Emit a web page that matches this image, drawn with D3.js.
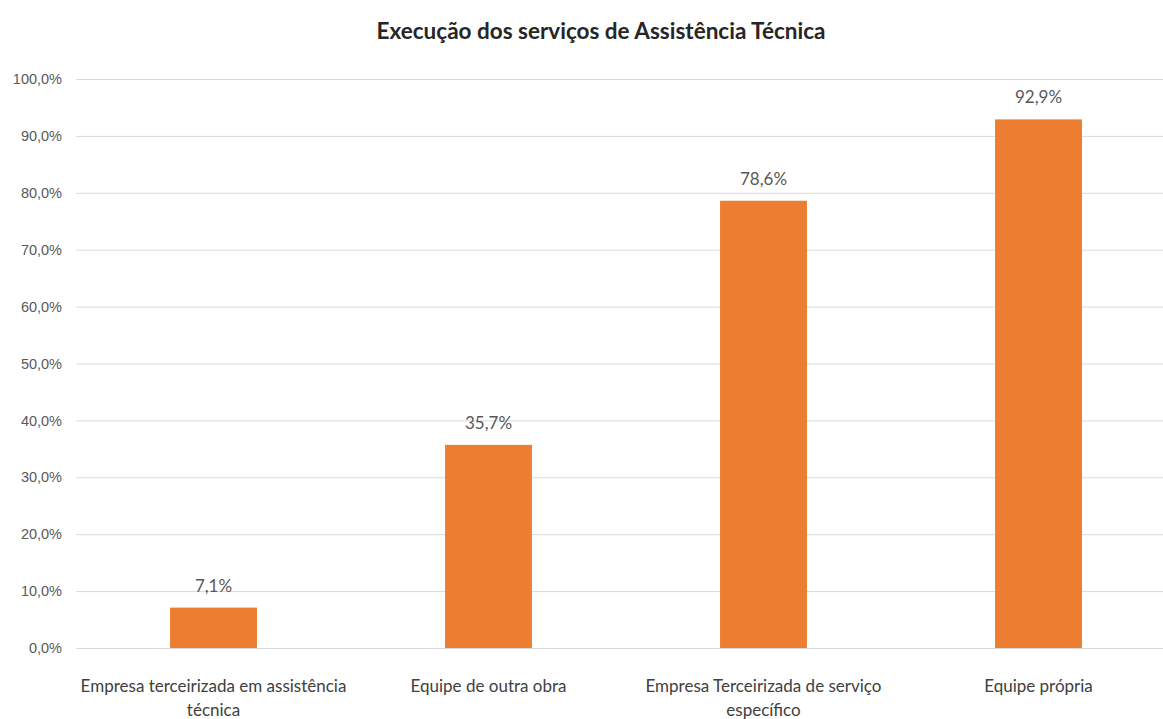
<!DOCTYPE html>
<html>
<head>
<meta charset="utf-8">
<script src="https://cdn.jsdelivr.net/npm/d3@7"></script>
<style>
  html, body { margin: 0; padding: 0; background: #fff; }
  svg { display: block; font-family: Lato, "Open Sans", sans-serif; }
</style>
</head>
<body>
<svg id="chart" width="1163" height="719"></svg>
<script>
const chartTitle = 'Execução dos serviços de Assistência Técnica';
const categories = [
  'Empresa terceirizada em assistência técnica',
  'Equipe de outra obra',
  'Empresa Terceirizada de serviço específico',
  'Equipe própria'
];
const values = [0.071, 0.357, 0.786, 0.929];
const yTicks = [0, 0.1, 0.2, 0.3, 0.4, 0.5, 0.6, 0.7, 0.8, 0.9, 1.0];

const width = 1163, height = 719;
const margin = { top: 79, right: -13, bottom: 71, left: 76 };

const svg = d3.select('#chart');

const x = d3.scaleBand()
  .domain(categories)
  .range([margin.left, width - margin.right])
  .paddingInner(0.684)
  .paddingOuter(0.342);

const y = d3.scaleLinear()
  .domain([0, 1])
  .range([height - margin.bottom, margin.top]);

const pct = d => d3.format('.1%')(d).replace('.', ',');

// gridlines + y labels
const yAxis = svg.append('g')
  .attr('transform', `translate(${margin.left},0)`)
  .call(d3.axisLeft(y)
    .tickValues(yTicks)
    .tickFormat(pct)
    .tickSize(-(width - margin.left - margin.right))
    .tickPadding(14));
yAxis.select('.domain').remove();
yAxis.selectAll('.tick line').attr('stroke', '#d9d9d9').attr('stroke-width', 1);
yAxis.selectAll('.tick text')
  .attr('fill', '#595959')
  .style('font-size', '14.5px');

// bars
svg.append('g')
  .selectAll('rect')
  .data(values)
  .join('rect')
  .attr('x', (d, i) => x(categories[i]))
  .attr('y', d => y(d))
  .attr('width', x.bandwidth())
  .attr('height', d => y(0) - y(d))
  .attr('fill', '#ED7D31');

// value labels
svg.append('g')
  .selectAll('text')
  .data(values)
  .join('text')
  .attr('x', (d, i) => x(categories[i]) + x.bandwidth() / 2)
  .attr('y', d => y(d) - 16)
  .attr('text-anchor', 'middle')
  .attr('fill', '#595959')
  .style('font-size', '17px')
  .text(pct);

// category labels, wrapped
function wrapLabel(text, maxWidth) {
  const words = text.split(' ');
  const lines = [];
  let line = '';
  const probe = svg.append('text').style('font-size', '17px');
  words.forEach(w => {
    const test = line ? line + ' ' + w : w;
    probe.text(test);
    if (probe.node().getComputedTextLength() > maxWidth && line) {
      lines.push(line);
      line = w;
    } else {
      line = test;
    }
  });
  lines.push(line);
  probe.remove();
  return lines;
}

const xLabels = svg.append('g');
categories.forEach(c => {
  const t = xLabels.append('text')
    .attr('x', x(c) + x.bandwidth() / 2)
    .attr('y', 692)
    .attr('text-anchor', 'middle')
    .attr('fill', '#404040')
    .style('font-size', '17px');
  wrapLabel(c, 272).forEach((l, i) => {
    t.append('tspan')
      .attr('x', x(c) + x.bandwidth() / 2)
      .attr('dy', i === 0 ? 0 : 24)
      .text(l);
  });
});

// title
svg.append('text')
  .attr('x', 601)
  .attr('y', 39)
  .attr('text-anchor', 'middle')
  .attr('fill', '#262626')
  .style('font-size', '22.5px')
  .style('font-weight', 'bold')
  .text(chartTitle);
</script>
</body>
</html>
